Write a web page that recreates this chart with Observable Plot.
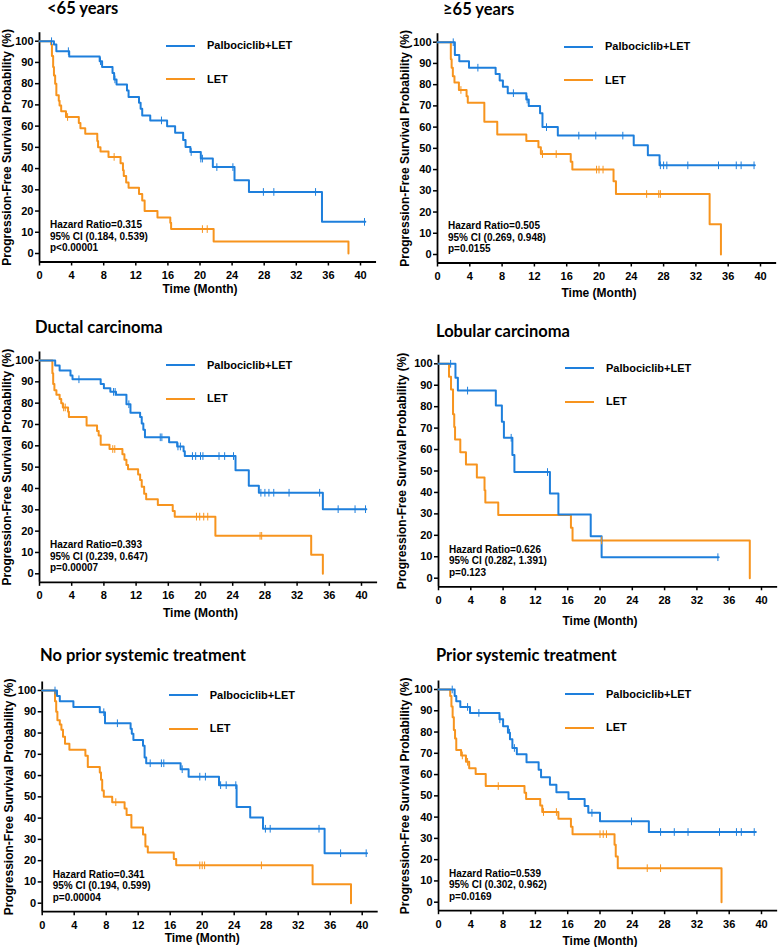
<!DOCTYPE html>
<html>
<head>
<meta charset="utf-8">
<script src="https://cdn.jsdelivr.net/npm/d3@7"></script>
<script src="https://cdn.jsdelivr.net/npm/@observablehq/plot@0.6"></script>
<style>
  html, body { margin: 0; padding: 0; background: #fff; }
  #page { position: relative; width: 778px; height: 947px; overflow: hidden; background: #fff; }
  .panel-svg { position: absolute; }
  .title { position: absolute; font-family: Lato, "Open Sans", sans-serif; font-weight: 700; font-size: 16.5px; line-height: 17px; color: #000; white-space: nowrap; }
  .leg-line { position: absolute; height: 2px; }
  .leg-text { position: absolute; font-family: "Liberation Sans", Arial, sans-serif; font-weight: 700; font-size: 11px; line-height: 14px; color: #000; white-space: nowrap; }
  .hr { position: absolute; font-family: "Liberation Sans", Arial, sans-serif; font-weight: 700; font-size: 10px; line-height: 11.5px; color: #000; white-space: nowrap; }
</style>
</head>
<body>
<div id="page"></div>
<script>
// ---------- labels ----------
const seriesNames = ["Palbociclib+LET", "LET"];
const yLabel = "Progression-Free Survival Probability (%)";
const xLabel = "Time (Month)";
const xTicks = [0, 4, 8, 12, 16, 20, 24, 28, 32, 36, 40];
const yTicks = [0, 10, 20, 30, 40, 50, 60, 70, 80, 90, 100];
const panelTitles = ["<65 years", "≥65 years", "Ductal carcinoma", "Lobular carcinoma", "No prior systemic treatment", "Prior systemic treatment"];
const hazardTexts = [
  ["Hazard Ratio=0.315", "95% CI (0.184, 0.539)", "p<0.00001"],
  ["Hazard Ratio=0.505", "95% CI (0.269, 0.948)", "p=0.0155"],
  ["Hazard Ratio=0.393", "95% CI (0.239, 0.647)", "p=0.00007"],
  ["Hazard Ratio=0.626", "95% CI (0.282, 1.391)", "p=0.123"],
  ["Hazard Ratio=0.341", "95% CI (0.194, 0.599)", "p=0.00004"],
  ["Hazard Ratio=0.539", "95% CI (0.302, 0.962)", "p=0.0169"]
];

// ---------- data: [month, survival %] after each step; censor times ----------
// <65 years
const lt65Palbo = [[0,100],[1.8,98.4],[2.1,95.3],[3.7,92.8],[7.5,90.6],[7.8,87.8],[9.1,85],[9.3,82],[9.6,79.6],[10.9,76.8],[11.1,73.7],[12.4,71],[12.6,68.2],[12.8,65],[13.8,62.7],[15.9,59.9],[16.9,56.9],[17.9,53.5],[18.2,50.2],[18.8,47.8],[20.1,44.7],[21.6,40.7],[24.3,34.5],[26.1,29],[35.2,14.9],[40.6,14.9]];
const lt65PalboCens = [1.5,3.6,7.6,9.4,15.2,18.9,20.1,20.3,22.1,24.1,27.9,29.2,34.4,40.5];
const lt65Let = [[0,100],[1.45,98.5],[1.55,93],[1.7,87.8],[1.8,83.9],[1.95,80],[2.1,74.5],[2.4,72],[2.5,69.7],[2.7,67],[3.3,64.3],[4.9,61.5],[5.1,59],[5.7,56.4],[7.2,53],[7.3,50],[7.6,48],[8.6,45.5],[10.1,42.5],[10.4,39.2],[10.5,36.5],[10.8,33.5],[11.1,31],[12.4,28],[12.8,25],[13.1,20],[14.7,17],[16.3,14.5],[16.4,11.5],[21.7,5.7],[38.5,0]];
const lt65LetCens = [3.5,9.3,20.3,20.9];
// >=65 years
const ge65Palbo = [[0,100],[2.15,94],[2.7,91],[3.9,88],[7.2,85],[7.7,82],[8.1,79],[8.7,76],[11,73],[11.3,70],[12.7,66.5],[13,60],[14.9,56],[24.3,51.5],[26.05,46.7],[27.5,42],[39.3,42]];
const ge65PalboCens = [1.95,5.0,9.4,11.1,13.5,17.5,19.6,22.95,27.6,28.0,28.4,31,34.8,37,37.6,39.2];
const ge65Let = [[0,100],[1.65,92],[1.75,88],[1.9,84],[2.1,81],[2.65,77.5],[3.6,74.5],[3.75,71.5],[5.8,62.5],[7.4,56.5],[11,53.5],[12.5,50.5],[12.8,47.3],[16.5,43.7],[16.7,40],[21.8,34.5],[22.1,28.5],[33.7,14.2],[35.1,0]];
const ge65LetCens = [2.9,13.0,14.7,19.7,20.0,20.5,25.9,27.4,27.6];
// Ductal carcinoma
const ductalPalbo = [[0,100],[1.95,97.6],[2.5,95.3],[3.85,93],[4.1,91.2],[7.6,89],[8.0,87],[8.8,85.3],[9.5,84],[10.8,79.5],[11.3,75.5],[12.5,73.5],[12.7,70.5],[12.9,67.5],[13.1,64],[16.1,61.7],[17.1,59.7],[17.9,57.5],[18.05,55.2],[24.35,48.5],[26,41.3],[27.25,38],[35.2,30.3],[40.6,30.3]];
const ductalPalboCens = [4.9,9.2,9.4,11.1,15,15.2,17.2,17.5,19,19.4,20,20.3,22.3,23,24.1,27.5,28,28.5,29.1,31,34.8,37.1,39.2,40.5];
const ductalLet = [[0,100],[1.6,94],[1.7,89],[1.85,86],[2.1,84],[2.5,82],[2.7,80],[2.9,78],[3.55,76],[3.65,73.5],[5.85,69.5],[7.15,67],[7.35,64.8],[7.6,60.5],[8.7,58.5],[10.3,56],[10.55,53.5],[10.8,51],[11,49],[12.25,46.5],[12.5,44],[12.7,40.8],[13.0,37.5],[13.25,35],[14.7,32.3],[16.55,29.5],[16.8,26.8],[21.85,17.8],[33.75,8.9],[35.2,0]];
const ductalLetCens = [3.0,3.2,9.1,9.35,19.5,19.9,20.4,20.9,27.4,27.6];
// Lobular carcinoma
const lobularPalbo = [[0,100],[2.1,93.5],[2.4,87.5],[7.1,80.5],[7.85,73],[8.1,65.5],[9.15,57.5],[9.4,49.5],[13.8,39.5],[14.85,29.7],[18.85,19.6],[20.2,9.8],[34.7,9.8]];
const lobularPalboCens = [1.5,3.6,9.0,13.5,34.6];
const lobularLet = [[0,100],[1.3,94],[1.55,88],[1.8,76.5],[1.95,70.5],[2.05,64.7],[2.7,58.8],[3.4,53],[4.75,47],[5.7,41],[5.8,35.3],[7.4,29.5],[16.4,23.5],[16.6,17.6],[38.55,0]];
const lobularLetCens = [20.2];
// No prior systemic treatment
const noPriorPalbo = [[0,100],[1.85,97.4],[2.2,95],[3.9,92.3],[7.2,89.8],[7.85,84.6],[11.05,82],[11.2,79.7],[11.4,76.7],[12.6,74],[12.8,68.5],[13,65.8],[17.3,63],[18.3,59.5],[22.1,55.5],[24.3,45.2],[26,40.3],[27.6,35],[35.3,23.5],[40.6,23.5]];
const noPriorPalboCens = [1.6,7.7,9.4,13.5,14.9,15.2,17.5,19.7,20.4,22.3,23,24.2,27.9,28.5,34.6,37.3,40.5];
const noPriorLet = [[0,100],[1.6,95],[1.75,90],[1.9,86],[2.2,84],[2.4,81.5],[2.6,78.3],[2.85,75],[3.4,72.2],[5.4,69.3],[5.7,64],[7.2,61.5],[7.35,58],[7.5,53],[7.7,50],[8.75,47.5],[10.3,44.5],[10.55,41.5],[11.15,35.6],[12.6,32.3],[12.9,26.7],[13.2,23.8],[16.45,20.8],[16.75,17.8],[33.8,8.9],[38.6,0]];
const noPriorLetCens = [9.2,19.7,20.0,20.3,27.4];
// Prior systemic treatment
const priorPalbo = [[0,100],[2.0,97],[2.2,94.5],[2.7,91.8],[3.9,89],[7.55,86],[8.0,82.7],[8.6,79.7],[8.85,76.6],[9.15,72.5],[9.7,69.5],[10.9,65.8],[12.4,62.3],[12.7,58.7],[13.8,55.2],[14.6,51.7],[16.1,48.5],[18.1,45.2],[18.55,42],[20,38],[26.05,33],[39.3,33]];
const priorPalboCens = [1.7,3.6,5.0,7.6,8.8,9.4,19.0,23.9,27.5,29.2,30.9,34.8,36.9,37.5,39.1];
const priorLet = [[0,100],[1.45,97],[1.6,92],[1.75,87],[1.9,81],[2.05,77],[2.2,71.5],[2.8,69],[3.4,66],[3.8,63],[4.6,60.3],[5.85,54.6],[10.65,51.5],[10.85,48.5],[12.6,45.5],[12.85,42.4],[14.85,39.2],[16.4,35.5],[16.6,32],[21.8,27],[21.95,21.5],[22.2,16],[35.05,0]];
const priorLetCens = [2.95,3.6,7.4,13.0,14.6,20.0,20.4,20.8,25.85,27.5];

// ---------- styling / layout ----------
const BLUE = "#1E7FDC";
const ORANGE = "#F7941E";

const panels = [
  {pal: lt65Palbo, palC: lt65PalboCens, let_: lt65Let, letC: lt65LetCens, left: 0, x0: 39, x40: 360, y100: 40.7, y0: 253, xlabDy: 27, ylabDx: -32.5, tx: 47, ty: 8.5},
  {pal: ge65Palbo, palC: ge65PalboCens, let_: ge65Let, letC: ge65LetCens, left: 388, x0: 437, x40: 760, y100: 41.7, y0: 254, xlabDy: 30, ylabDx: -32.5, tx: 443, ty: 9.5},
  {pal: ductalPalbo, palC: ductalPalboCens, let_: ductalLet, letC: ductalLetCens, left: 0, x0: 39, x40: 361, y100: 360, y0: 573.3, xlabDy: 31, ylabDx: -32.5, tx: 35, ty: 327},
  {pal: lobularPalbo, palC: lobularPalboCens, let_: lobularLet, letC: lobularLetCens, left: 388, x0: 438, x40: 761, y100: 363.3, y0: 577.7, xlabDy: 34, ylabDx: -36, tx: 436, ty: 331},
  {pal: noPriorPalbo, palC: noPriorPalboCens, let_: noPriorLet, letC: noPriorLetCens, left: 0, x0: 41.7, x40: 361.7, y100: 690, y0: 902.7, xlabDy: 26, ylabDx: -33.4, tx: 40, ty: 655},
  {pal: priorPalbo, palC: priorPalboCens, let_: priorLet, letC: priorLetCens, left: 388, x0: 438, x40: 761, y100: 689, y0: 901.7, xlabDy: 30, ylabDx: -33.5, tx: 436, ty: 655}
];

function survAt(steps, t) {
  let s = steps[0][1];
  for (const [tt, ss] of steps) { if (tt <= t) s = ss; else break; }
  return s;
}

const page = document.getElementById("page");

panels.forEach((p, i) => {
  const kx = (p.x40 - p.x0) / 40;
  const ky = (p.y0 - p.y100) / 100;
  const xDom = [0, 42], yDom = [-4, 104];
  const width = 390;
  const top = Math.round(p.y100 - 40);
  const height = Math.min(297, 947 - top);
  const marginLeft = p.x0 - p.left;
  const marginRight = p.left + width - (p.x0 + xDom[1] * kx);
  const marginTop = (p.y100 - (yDom[1] - 100) * ky) - top;
  const marginBottom = top + height - (p.y0 - yDom[0] * ky);

  const censors = (steps, times, color) => times.map(t => ({t, s: survAt(steps, t), color}));
  const cens = [...censors(p.pal, p.palC, BLUE), ...censors(p.let_, p.letC, ORANGE)];

  const svg = Plot.plot({
    width, height, marginLeft, marginRight, marginTop, marginBottom,
    style: {fontFamily: "'Liberation Sans', Arial, sans-serif", fontWeight: "bold", fontSize: "11px", color: "#000", background: "transparent", overflow: "visible"},
    x: {domain: xDom, label: null},
    y: {domain: yDom, label: null},
    marks: [
      Plot.axisX({ticks: xTicks, tickSize: 4, tickPadding: 5, label: null, strokeWidth: 1.5, fontSize: 11, fontWeight: "bold"}),
      Plot.axisY({ticks: yTicks, tickSize: 4, tickPadding: 2, label: null, strokeWidth: 1.5, fontSize: 11, fontWeight: "bold"}),
      Plot.ruleX([xDom[0]], {stroke: "#000", strokeWidth: 1.8}),
      Plot.ruleY([yDom[0]], {stroke: "#000", strokeWidth: 1.8}),
      Plot.line(p.let_, {x: d => d[0], y: d => d[1], curve: "step-after", stroke: ORANGE, strokeWidth: 2}),
      Plot.line(p.pal, {x: d => d[0], y: d => d[1], curve: "step-after", stroke: BLUE, strokeWidth: 2}),
      Plot.link(cens, {x1: "t", x2: "t", y1: d => d.s - 1.8, y2: d => d.s + 1.8, stroke: d => d.color, strokeWidth: 1}),
      Plot.text([yLabel], {text: d => d, frameAnchor: "left", textAnchor: "middle", lineAnchor: "middle", rotate: -90, dx: p.ylabDx, fontSize: 12, fontWeight: "bold"}),
      Plot.text([xLabel], {text: d => d, frameAnchor: "bottom", textAnchor: "middle", lineAnchor: "middle", dx: -kx, dy: p.xlabDy, fontSize: 12, fontWeight: "bold"})
    ]
  });
  svg.classList.add("panel-svg");
  svg.style.left = p.left + "px";
  svg.style.top = top + "px";
  svg.style.width = width + "px";
  svg.style.maxWidth = "none";
  page.appendChild(svg);

  // title
  const title = document.createElement("div");
  title.className = "title";
  title.textContent = panelTitles[i];
  title.style.left = p.tx + "px";
  title.style.top = Math.max(0, p.ty - 8.5) + "px";
  page.appendChild(title);

  // legend
  [[BLUE, 5], [ORANGE, 38.5]].forEach(([c, off], j) => {
    const ln = document.createElement("div");
    ln.className = "leg-line";
    ln.style.background = c;
    ln.style.left = (p.x0 + 127) + "px";
    ln.style.width = "29px";
    ln.style.top = (p.y100 + off - 1) + "px";
    page.appendChild(ln);
    const tx = document.createElement("div");
    tx.className = "leg-text";
    tx.textContent = seriesNames[j];
    tx.style.left = (p.x0 + 168) + "px";
    tx.style.top = (p.y100 + off - 7.5) + "px";
    page.appendChild(tx);
  });

  // hazard ratio annotation
  const hr = document.createElement("div");
  hr.className = "hr";
  hr.innerHTML = hazardTexts[i].map(s => s.replace(/</g, "&lt;")).join("<br>");
  hr.style.left = (p.x0 + 11) + "px";
  hr.style.top = (p.y0 - 34) + "px";
  page.appendChild(hr);
});
</script>
</body>
</html>
